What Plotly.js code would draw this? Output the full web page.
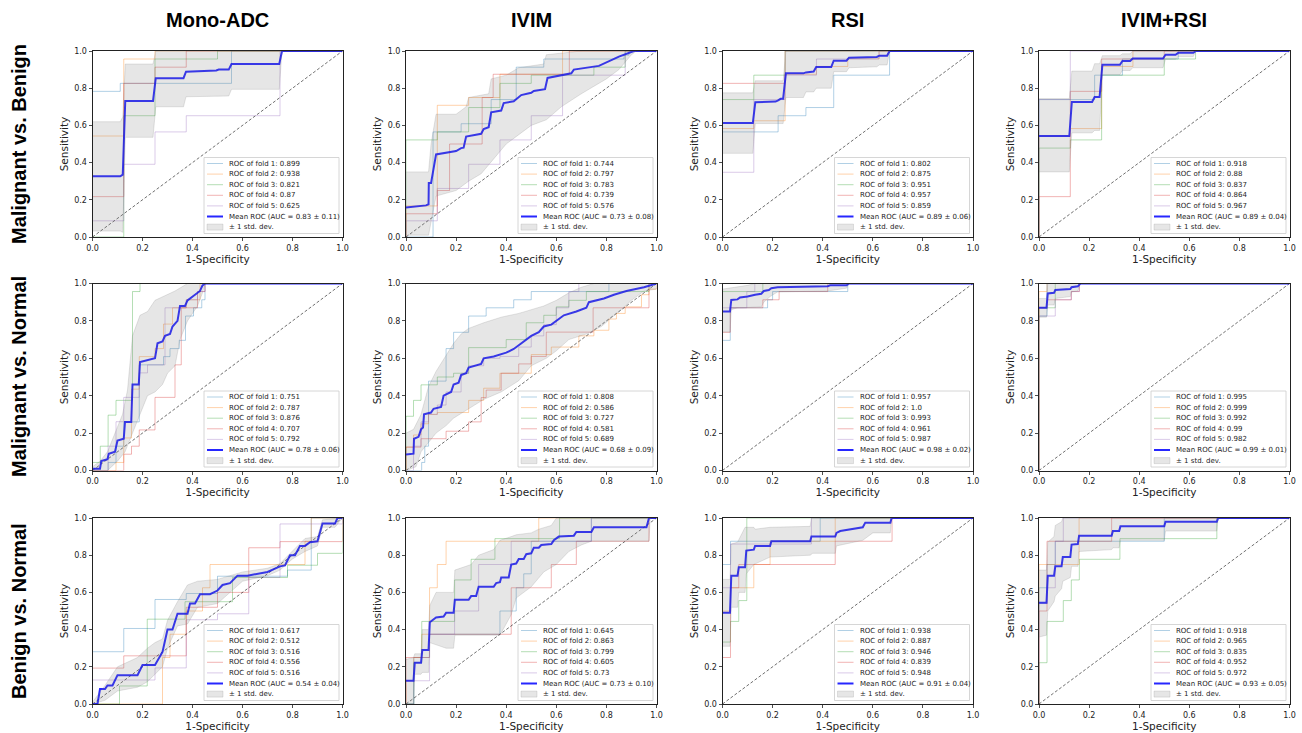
<!DOCTYPE html>
<html><head><meta charset="utf-8">
<script src="https://cdn.plot.ly/plotly-3.0.1.min.js"></script>
<style>html,body{margin:0;padding:0;background:#fff}#chart{width:1302px;height:733px}</style>
</head><body><div id="chart"></div>
<script>
// ---------- labels ----------
const rowNames = ['Malignant vs. Benign', 'Malignant vs. Normal', 'Benign vs. Normal'];
const colNames = ['Mono-ADC', 'IVIM', 'RSI', 'IVIM+RSI'];
const foldColors = ['rgba(31,119,180,0.35)', 'rgba(255,127,14,0.35)', 'rgba(44,160,44,0.35)', 'rgba(214,39,40,0.35)', 'rgba(148,103,189,0.35)'];
const xTitle = '1-Specificity';
const yTitle = 'Sensitivity';
const tickValues = [0, 0.2, 0.4, 0.6, 0.8, 1.0];
const diagonal = [[0, 0], [1, 1]];

// ---------- Malignant vs. Benign : Mono-ADC ----------
const mbAdcFold1 = [[0,0],[0,0.783],[0.111,0.826],[0.556,1],[1,1]];
const mbAdcFold2 = [[0,0],[0,0.543],[0.125,0.957],[0.25,1],[1,1]];
const mbAdcFold3 = [[0,0],[0.125,0.652],[0.25,0.957],[0.5,1],[1,1]];
const mbAdcFold4 = [[0,0],[0,0.217],[0.125,0.826],[0.25,0.913],[0.375,1],[1,1]];
const mbAdcFold5 = [[0,0],[0,0.087],[0.125,0.391],[0.25,0.565],[0.375,0.652],[0.75,1],[1,1]];
const mbAdcMean = [[0,0.326],[0.111,0.326],[0.121,0.335],[0.131,0.731],[0.242,0.731],[0.253,0.854],[0.364,0.854],[0.374,0.889],[0.495,0.895],[0.505,0.9],[0.545,0.9],[0.556,0.93],[0.747,0.93],[0.758,1],[1,1]];
const mbAdcUpper = [[0,0.62],[0.111,0.62],[0.121,0.645],[0.131,0.93],[0.242,0.93],[0.253,1],[1,1]];
const mbAdcLower = [[0,0.032],[0.111,0.032],[0.121,0.025],[0.131,0.536],[0.242,0.536],[0.253,0.70],[0.364,0.70],[0.374,0.754],[0.545,0.758],[0.556,0.794],[0.747,0.794],[0.758,1],[1,1]];
const mbAdcAuc = [0.899, 0.938, 0.821, 0.87, 0.625];
const mbAdcMeanAuc = [0.83, 0.11];

// ---------- Malignant vs. Benign : IVIM ----------
const mbIvimFold1 = [[0,0],[0.108,0.565],[0.22,0.609],[0.34,0.739],[0.44,0.913],[0.55,0.957],[0.87,0.978],[0.89,1],[1,1]];
const mbIvimFold2 = [[0,0],[0,0.167],[0.125,0.708],[0.25,0.75],[0.375,0.875],[0.625,1],[1,1]];
const mbIvimFold3 = [[0,0],[0,0.522],[0.125,0.565],[0.25,0.696],[0.375,0.826],[0.5,0.87],[0.75,0.913],[0.875,1],[1,1]];
const mbIvimFold4 = [[0,0],[0,0.125],[0.125,0.25],[0.174,0.5],[0.304,0.75],[0.348,0.875],[0.652,1],[1,1]];
const mbIvimFold5 = [[0,0],[0,0.087],[0.125,0.261],[0.25,0.391],[0.375,0.522],[0.5,0.652],[0.625,0.87],[0.875,1],[1,1]];
const mbIvimMean = [[0,0.158],[0.08,0.17],[0.09,0.176],[0.091,0.29],[0.1,0.29],[0.12,0.444],[0.2,0.462],[0.21,0.47],[0.22,0.478],[0.23,0.48],[0.24,0.54],[0.3,0.555],[0.31,0.58],[0.33,0.59],[0.34,0.67],[0.38,0.68],[0.39,0.72],[0.43,0.73],[0.46,0.763],[0.5,0.775],[0.51,0.785],[0.555,0.795],[0.565,0.855],[0.66,0.88],[0.67,0.9],[0.77,0.92],[0.85,0.97],[0.91,1],[1,1]];
const mbIvimUpper = [[0,0.35],[0.09,0.35],[0.1,0.5],[0.12,0.66],[0.2,0.66],[0.24,0.7],[0.25,0.75],[0.33,0.77],[0.34,0.85],[0.4,0.87],[0.45,0.91],[0.55,0.93],[0.56,0.98],[0.62,0.99],[0.7,1],[1,1]];
const mbIvimLower = [[0,0.01],[0.09,0.01],[0.1,0.08],[0.12,0.22],[0.2,0.25],[0.25,0.3],[0.3,0.34],[0.35,0.42],[0.4,0.5],[0.45,0.55],[0.5,0.6],[0.56,0.63],[0.62,0.7],[0.7,0.77],[0.8,0.85],[0.85,0.9],[0.9,0.98],[0.92,1],[1,1]];
const mbIvimAuc = [0.744, 0.797, 0.783, 0.739, 0.576];
const mbIvimMeanAuc = [0.73, 0.08];

// ---------- Malignant vs. Benign : RSI ----------
const mbRsiFold1 = [[0,0],[0,0.565],[0.222,0.652],[0.333,0.696],[0.444,0.87],[0.667,1],[1,1]];
const mbRsiFold2 = [[0,0],[0,0.583],[0.125,0.625],[0.25,0.875],[0.375,0.917],[0.5,0.958],[0.625,1],[1,1]];
const mbRsiFold3 = [[0,0],[0,0.739],[0.125,0.87],[0.25,1],[1,1]];
const mbRsiFold4 = [[0,0],[0,0.826],[0.25,1],[1,1]];
const mbRsiFold5 = [[0,0],[0,0.348],[0.125,0.739],[0.25,0.87],[0.375,0.957],[0.625,1],[1,1]];
const mbRsiMean = [[0,0.6125],[0.121,0.6125],[0.131,0.725],[0.212,0.728],[0.222,0.735],[0.232,0.743],[0.242,0.743],[0.253,0.88],[0.323,0.88],[0.333,0.885],[0.364,0.89],[0.374,0.914],[0.434,0.914],[0.444,0.948],[0.495,0.948],[0.505,0.964],[0.616,0.968],[0.626,0.975],[0.657,0.975],[0.667,1],[1,1]];
const mbRsiUpper = [[0,0.775],[0.121,0.775],[0.131,0.84],[0.242,0.84],[0.253,1],[1,1]];
const mbRsiLower = [[0,0.45],[0.121,0.45],[0.131,0.61],[0.242,0.61],[0.253,0.75],[0.323,0.75],[0.333,0.78],[0.364,0.78],[0.374,0.8],[0.434,0.8],[0.444,0.889],[0.495,0.889],[0.505,0.91],[0.616,0.915],[0.626,0.925],[0.657,0.925],[0.667,1],[1,1]];
const mbRsiAuc = [0.802, 0.875, 0.951, 0.957, 0.859];
const mbRsiMeanAuc = [0.89, 0.06];

// ---------- Malignant vs. Benign : IVIM+RSI ----------
const mbComboFold1 = [[0,0],[0,0.739],[0.222,0.87],[0.333,0.957],[0.556,1],[1,1]];
const mbComboFold2 = [[0,0],[0,0.542],[0.125,0.583],[0.25,0.917],[0.375,1],[1,1]];
const mbComboFold3 = [[0,0],[0,0.478],[0.125,0.522],[0.25,0.87],[0.5,0.957],[0.625,1],[1,1]];
const mbComboFold4 = [[0,0],[0,0.217],[0.125,0.783],[0.25,0.957],[0.5,1],[1,1]];
const mbComboFold5 = [[0,0],[0,0.739],[0.125,1],[1,1]];
const mbComboMean = [[0,0.543],[0.121,0.543],[0.131,0.726],[0.212,0.726],[0.222,0.753],[0.242,0.753],[0.253,0.926],[0.323,0.926],[0.333,0.946],[0.364,0.946],[0.374,0.96],[0.495,0.96],[0.505,0.98],[0.545,0.98],[0.556,0.99],[0.616,0.99],[0.626,1],[1,1]];
const mbComboUpper = [[0,0.744],[0.121,0.744],[0.131,0.892],[0.212,0.892],[0.222,0.932],[0.242,0.932],[0.253,0.975],[0.323,0.975],[0.333,0.985],[0.364,0.985],[0.374,1],[1,1]];
const mbComboLower = [[0,0.35],[0.121,0.35],[0.131,0.56],[0.212,0.56],[0.222,0.573],[0.242,0.573],[0.253,0.873],[0.323,0.873],[0.333,0.895],[0.364,0.895],[0.374,0.91],[0.495,0.91],[0.505,0.955],[0.545,0.955],[0.556,0.97],[0.616,0.97],[0.626,1],[1,1]];
const mbComboAuc = [0.918, 0.88, 0.837, 0.864, 0.967];
const mbComboMeanAuc = [0.89, 0.04];

// ---------- Malignant vs. Normal : Mono-ADC ----------
const mnAdcFold1 = [[0,0],[0.0625,0.043],[0.094,0.13],[0.125,0.26],[0.187,0.565],[0.284,0.609],[0.31,0.652],[0.347,0.696],[0.372,0.826],[0.404,0.87],[0.437,0.913],[0.45,1],[1,1]];
const mnAdcFold2 = [[0,0],[0.094,0.043],[0.125,0.174],[0.156,0.435],[0.187,0.609],[0.25,0.652],[0.284,0.783],[0.32,0.87],[0.375,0.913],[0.43,1],[1,1]];
const mnAdcFold3 = [[0,0],[0,0.043],[0.031,0.13],[0.0625,0.296],[0.094,0.375],[0.16,0.957],[0.19,1],[1,1]];
const mnAdcFold4 = [[0,0],[0.125,0.087],[0.156,0.13],[0.187,0.217],[0.25,0.391],[0.33,0.565],[0.355,0.87],[0.42,0.957],[0.45,1],[1,1]];
const mnAdcFold5 = [[0,0],[0.0625,0.13],[0.094,0.261],[0.125,0.391],[0.187,0.522],[0.22,0.565],[0.29,0.87],[0.375,0.913],[0.42,0.957],[0.45,1],[1,1]];
const mnAdcMean = [[0,0.01],[0.03,0.01],[0.035,0.05],[0.06,0.06],[0.065,0.09],[0.09,0.1],[0.1,0.16],[0.125,0.17],[0.13,0.26],[0.155,0.26],[0.16,0.46],[0.185,0.46],[0.19,0.58],[0.22,0.59],[0.25,0.6],[0.26,0.68],[0.28,0.69],[0.29,0.72],[0.31,0.73],[0.32,0.77],[0.34,0.8],[0.35,0.88],[0.37,0.88],[0.38,0.91],[0.41,0.94],[0.43,0.96],[0.44,0.99],[0.45,1],[1,1]];
const mnAdcUpper = [[0,0.02],[0.03,0.05],[0.06,0.1],[0.09,0.2],[0.12,0.3],[0.14,0.43],[0.16,0.72],[0.19,0.83],[0.22,0.85],[0.25,0.91],[0.28,0.93],[0.33,0.96],[0.38,1],[1,1]];
const mnAdcLower = [[0,0],[0.06,0],[0.1,0.05],[0.13,0.1],[0.16,0.2],[0.19,0.3],[0.22,0.4],[0.25,0.42],[0.28,0.46],[0.3,0.52],[0.33,0.56],[0.35,0.7],[0.38,0.8],[0.42,0.88],[0.44,0.95],[0.45,1],[1,1]];
const mnAdcAuc = [0.751, 0.787, 0.876, 0.707, 0.792];
const mnAdcMeanAuc = [0.78, 0.06];

// ---------- Malignant vs. Normal : IVIM ----------
const mnIvimFold1 = [[0,0],[0.0625,0.043],[0.075,0.13],[0.09,0.478],[0.16,0.652],[0.19,0.739],[0.25,0.826],[0.32,0.87],[0.43,0.913],[0.5,0.957],[0.81,1],[1,1]];
const mnIvimFold2 = [[0,0],[0,0.125],[0.03,0.19],[0.06,0.25],[0.09,0.3],[0.125,0.31],[0.25,0.375],[0.31,0.44],[0.375,0.52],[0.5,0.62],[0.58,0.66],[0.69,0.72],[0.75,0.75],[0.81,0.81],[0.84,0.84],[0.875,0.875],[0.94,0.94],[0.97,0.97],[1,1]];
const mnIvimFold3 = [[0,0],[0,0.29],[0.03,0.375],[0.06,0.458],[0.125,0.5],[0.19,0.52],[0.25,0.657],[0.4,0.7],[0.48,0.79],[0.55,0.83],[0.6,0.875],[0.65,0.91],[0.72,0.957],[0.97,1],[1,1]];
const mnIvimFold4 = [[0,0],[0,0.125],[0.06,0.17],[0.16,0.21],[0.25,0.26],[0.3,0.39],[0.32,0.43],[0.38,0.52],[0.45,0.57],[0.5,0.61],[0.56,0.74],[0.747,0.87],[0.97,1],[1,1]];
const mnIvimFold5 = [[0,0],[0.03,0.13],[0.06,0.26],[0.09,0.3],[0.125,0.35],[0.16,0.42],[0.22,0.52],[0.25,0.56],[0.31,0.6],[0.375,0.61],[0.45,0.66],[0.5,0.72],[0.55,0.78],[0.6,0.87],[0.65,0.957],[0.69,1],[1,1]];
const mnIvimMean = [[0,0.085],[0.03,0.09],[0.032,0.17],[0.05,0.18],[0.06,0.22],[0.068,0.23],[0.072,0.3],[0.1,0.31],[0.11,0.33],[0.14,0.34],[0.15,0.4],[0.18,0.42],[0.19,0.46],[0.21,0.47],[0.22,0.51],[0.24,0.52],[0.25,0.55],[0.3,0.57],[0.31,0.6],[0.35,0.61],[0.4,0.63],[0.43,0.65],[0.45,0.67],[0.48,0.7],[0.5,0.72],[0.53,0.74],[0.55,0.77],[0.58,0.78],[0.6,0.8],[0.63,0.83],[0.68,0.85],[0.72,0.87],[0.73,0.9],[0.79,0.92],[0.83,0.94],[0.88,0.96],[0.95,0.98],[1,1]];
const mnIvimUpper = [[0,0.2],[0.03,0.22],[0.06,0.3],[0.09,0.45],[0.12,0.53],[0.16,0.62],[0.19,0.68],[0.22,0.73],[0.25,0.76],[0.31,0.79],[0.38,0.82],[0.45,0.84],[0.5,0.86],[0.55,0.88],[0.6,0.91],[0.65,0.95],[0.7,0.98],[0.75,1],[1,1]];
const mnIvimLower = [[0,0],[0.04,0.02],[0.06,0.1],[0.09,0.15],[0.12,0.2],[0.16,0.24],[0.19,0.28],[0.25,0.33],[0.31,0.38],[0.38,0.42],[0.45,0.48],[0.5,0.56],[0.56,0.6],[0.6,0.64],[0.65,0.7],[0.72,0.73],[0.78,0.77],[0.85,0.85],[0.9,0.91],[0.95,0.96],[1,0.97]];
const mnIvimAuc = [0.808, 0.586, 0.727, 0.581, 0.689];
const mnIvimMeanAuc = [0.68, 0.09];

// ---------- Malignant vs. Normal : RSI ----------
const mnRsiFold1 = [[0,0],[0,0.696],[0.031,0.87],[0.18,0.913],[0.2,0.957],[0.5,1],[1,1]];
const mnRsiFold2 = [[0,0],[0,1],[1,1]];
const mnRsiFold3 = [[0,0],[0,0.957],[0.161,1],[1,1]];
const mnRsiFold4 = [[0,0],[0,0.739],[0.031,0.87],[0.161,0.913],[0.226,0.957],[0.42,1],[1,1]];
const mnRsiFold5 = [[0,0],[0,0.87],[0.097,0.957],[0.129,1],[1,1]];
const mnRsiMean = [[0,0.85],[0.03,0.85],[0.035,0.912],[0.06,0.915],[0.07,0.925],[0.1,0.93],[0.13,0.94],[0.155,0.945],[0.165,0.96],[0.185,0.965],[0.195,0.975],[0.22,0.98],[0.42,0.985],[0.43,0.99],[0.495,0.99],[0.505,1],[1,1]];
const mnRsiUpper = [[0,0.97],[0.03,0.975],[0.1,0.99],[0.13,1],[1,1]];
const mnRsiLower = [[0,0.74],[0.03,0.74],[0.035,0.86],[0.06,0.87],[0.155,0.875],[0.165,0.9],[0.19,0.93],[0.22,0.955],[0.42,0.96],[0.495,0.975],[0.505,1],[1,1]];
const mnRsiAuc = [0.957, 1.0, 0.993, 0.961, 0.987];
const mnRsiMeanAuc = [0.98, 0.02];

// ---------- Malignant vs. Normal : IVIM+RSI ----------
const mnComboFold1 = [[0,0],[0,0.826],[0.032,1],[1,1]];
const mnComboFold2 = [[0,0],[0,0.957],[0.032,1],[1,1]];
const mnComboFold3 = [[0,0],[0,0.87],[0.065,1],[1,1]];
const mnComboFold4 = [[0,0],[0,0.87],[0.032,0.913],[0.129,0.957],[0.161,1],[1,1]];
const mnComboFold5 = [[0,0],[0,0.826],[0.065,0.913],[0.129,0.957],[0.161,1],[1,1]];
const mnComboMean = [[0,0.87],[0.03,0.87],[0.035,0.947],[0.06,0.95],[0.065,0.965],[0.125,0.97],[0.13,0.98],[0.155,0.985],[0.165,1],[1,1]];
const mnComboUpper = [[0,0.92],[0.03,0.92],[0.035,1],[1,1]];
const mnComboLower = [[0,0.82],[0.03,0.82],[0.035,0.885],[0.06,0.885],[0.065,0.92],[0.125,0.93],[0.13,0.955],[0.155,0.96],[0.165,1],[1,1]];
const mnComboAuc = [0.995, 0.999, 0.992, 0.99, 0.982];
const mnComboMeanAuc = [0.99, 0.01];

// ---------- Benign vs. Normal : Mono-ADC ----------
const bnAdcFold1 = [[0,0],[0,0.281],[0.125,0.406],[0.25,0.562],[0.375,0.594],[0.5,0.687],[0.78,0.72],[0.875,1],[1,1]];
const bnAdcFold2 = [[0,0],[0.28,0.25],[0.31,0.375],[0.375,0.5],[0.44,0.625],[0.47,0.75],[0.85,0.875],[0.875,1],[1,1]];
const bnAdcFold3 = [[0,0],[0.108,0.097],[0.219,0.456],[0.37,0.55],[0.56,0.68],[0.78,0.746],[0.9,0.81],[1,1]];
const bnAdcFold4 = [[0,0],[0,0.193],[0.125,0.259],[0.375,0.52],[0.5,0.6],[0.625,0.84],[0.75,0.873],[1,1]];
const bnAdcFold5 = [[0,0],[0,0.129],[0.25,0.194],[0.375,0.453],[0.5,0.485],[0.625,0.68],[0.75,0.968],[1,1]];
const bnAdcMean = [[0,0],[0.02,0],[0.03,0.08],[0.05,0.08],[0.06,0.1],[0.08,0.1],[0.1,0.155],[0.18,0.155],[0.2,0.21],[0.25,0.21],[0.28,0.28],[0.3,0.4],[0.32,0.4],[0.34,0.485],[0.38,0.485],[0.39,0.54],[0.41,0.54],[0.43,0.59],[0.47,0.59],[0.5,0.61],[0.52,0.64],[0.55,0.65],[0.58,0.69],[0.62,0.69],[0.7,0.71],[0.75,0.74],[0.77,0.745],[0.79,0.8],[0.81,0.8],[0.83,0.85],[0.85,0.85],[0.87,0.87],[0.9,0.875],[0.92,0.97],[0.97,0.97],[0.98,1],[1,1]];
const bnAdcUpper = [[0,0.01],[0.05,0.1],[0.1,0.2],[0.18,0.25],[0.22,0.3],[0.25,0.33],[0.28,0.35],[0.3,0.45],[0.34,0.55],[0.38,0.64],[0.42,0.66],[0.5,0.67],[0.6,0.71],[0.7,0.73],[0.75,0.755],[0.8,0.82],[0.85,0.89],[0.9,0.9],[0.92,0.99],[1,1]];
const bnAdcLower = [[0,0],[0.05,0.02],[0.1,0.07],[0.18,0.09],[0.22,0.12],[0.28,0.2],[0.3,0.3],[0.34,0.42],[0.38,0.43],[0.42,0.52],[0.5,0.54],[0.55,0.6],[0.6,0.66],[0.7,0.69],[0.75,0.72],[0.8,0.78],[0.85,0.82],[0.9,0.85],[0.92,0.95],[0.97,0.95],[1,1]];
const bnAdcAuc = [0.617, 0.512, 0.516, 0.556, 0.516];
const bnAdcMeanAuc = [0.54, 0.04];

// ---------- Benign vs. Normal : IVIM ----------
const bnIvimFold1 = [[0,0],[0.031,0.25],[0.094,0.375],[0.375,0.5],[0.44,0.625],[0.47,0.7],[0.5,0.875],[0.74,1],[1,1]];
const bnIvimFold2 = [[0,0],[0,0.125],[0.031,0.25],[0.063,0.375],[0.094,0.625],[0.125,0.75],[0.16,0.875],[0.53,1],[1,1]];
const bnIvimFold3 = [[0,0],[0.031,0.222],[0.063,0.444],[0.194,0.667],[0.26,0.778],[0.355,0.889],[0.613,1],[1,1]];
const bnIvimFold4 = [[0,0],[0,0.25],[0.094,0.375],[0.42,0.625],[0.58,0.75],[0.68,0.875],[0.97,1],[1,1]];
const bnIvimFold5 = [[0,0],[0.031,0.125],[0.094,0.375],[0.194,0.5],[0.29,0.75],[0.42,0.875],[0.74,1],[1,1]];
const bnIvimMean = [[0,0.125],[0.03,0.125],[0.035,0.222],[0.06,0.222],[0.065,0.29],[0.09,0.29],[0.095,0.44],[0.12,0.465],[0.15,0.47],[0.16,0.49],[0.19,0.49],[0.195,0.56],[0.25,0.56],[0.26,0.58],[0.28,0.58],[0.29,0.63],[0.35,0.63],[0.36,0.65],[0.375,0.655],[0.38,0.68],[0.41,0.68],[0.42,0.75],[0.44,0.755],[0.45,0.78],[0.47,0.78],[0.48,0.805],[0.5,0.81],[0.51,0.84],[0.53,0.84],[0.54,0.855],[0.58,0.86],[0.59,0.88],[0.61,0.9],[0.67,0.905],[0.68,0.925],[0.74,0.925],[0.75,0.95],[0.96,0.95],[0.97,1],[1,1]];
const bnIvimUpper = [[0,0.24],[0.03,0.25],[0.035,0.27],[0.06,0.27],[0.065,0.4],[0.09,0.4],[0.095,0.53],[0.12,0.6],[0.19,0.6],[0.195,0.72],[0.26,0.75],[0.29,0.8],[0.35,0.83],[0.375,0.88],[0.42,0.9],[0.44,0.91],[0.5,0.92],[0.53,0.94],[0.58,0.96],[0.6,1],[1,1]];
const bnIvimLower = [[0,0],[0.03,0],[0.035,0.16],[0.06,0.16],[0.065,0.17],[0.09,0.17],[0.095,0.33],[0.16,0.3],[0.19,0.3],[0.195,0.37],[0.375,0.37],[0.42,0.48],[0.44,0.57],[0.5,0.63],[0.55,0.71],[0.6,0.75],[0.65,0.82],[0.7,0.855],[0.74,0.875],[0.97,0.875],[0.975,1],[1,1]];
const bnIvimAuc = [0.645, 0.863, 0.799, 0.605, 0.73];
const bnIvimMeanAuc = [0.73, 0.10];

// ---------- Benign vs. Normal : RSI ----------
const bnRsiFold1 = [[0,0],[0,0.75],[0.032,0.875],[0.39,1],[1,1]];
const bnRsiFold2 = [[0,0],[0,0.5],[0.032,0.625],[0.125,0.75],[0.19,0.875],[0.45,1],[1,1]];
const bnRsiFold3 = [[0,0],[0,0.333],[0.032,0.444],[0.065,0.556],[0.097,1],[1,1]];
const bnRsiFold4 = [[0,0],[0,0.25],[0.032,0.625],[0.065,0.75],[0.45,0.875],[0.677,1],[1,1]];
const bnRsiFold5 = [[0,0],[0,0.625],[0.032,0.86],[0.355,1],[1,1]];
const bnRsiMean = [[0,0.49],[0.03,0.49],[0.035,0.69],[0.06,0.69],[0.065,0.735],[0.09,0.735],[0.095,0.825],[0.125,0.83],[0.13,0.85],[0.19,0.85],[0.195,0.875],[0.35,0.875],[0.355,0.9],[0.45,0.9],[0.455,0.92],[0.47,0.93],[0.56,0.95],[0.57,0.975],[0.67,0.975],[0.675,1],[1,1]];
const bnRsiUpper = [[0,0.67],[0.03,0.67],[0.035,0.86],[0.06,0.87],[0.09,0.95],[0.125,0.95],[0.13,0.94],[0.19,0.95],[0.35,0.955],[0.355,1],[1,1]];
const bnRsiLower = [[0,0.31],[0.03,0.31],[0.035,0.52],[0.06,0.52],[0.065,0.6],[0.09,0.6],[0.095,0.7],[0.125,0.75],[0.19,0.79],[0.35,0.8],[0.36,0.81],[0.45,0.81],[0.455,0.85],[0.56,0.88],[0.6,0.92],[0.67,0.92],[0.675,1],[1,1]];
const bnRsiAuc = [0.938, 0.887, 0.946, 0.839, 0.948];
const bnRsiMeanAuc = [0.91, 0.04];

// ---------- Benign vs. Normal : IVIM+RSI ----------
const bnComboFold1 = [[0,0],[0,0.625],[0.032,0.75],[0.065,0.875],[0.5,1],[1,1]];
const bnComboFold2 = [[0,0],[0,0.75],[0.16,1],[1,1]];
const bnComboFold3 = [[0,0],[0,0.222],[0.032,0.444],[0.097,0.556],[0.129,0.667],[0.161,0.778],[0.323,0.889],[0.71,1],[1,1]];
const bnComboFold4 = [[0,0],[0,0.5],[0.032,0.875],[0.29,1],[1,1]];
const bnComboFold5 = [[0,0],[0,0.54],[0.032,0.625],[0.065,0.875],[0.097,1],[1,1]];
const bnComboMean = [[0,0.545],[0.03,0.545],[0.035,0.69],[0.06,0.69],[0.065,0.74],[0.09,0.74],[0.095,0.79],[0.125,0.79],[0.13,0.857],[0.155,0.86],[0.16,0.905],[0.29,0.905],[0.295,0.93],[0.32,0.93],[0.325,0.955],[0.5,0.955],[0.505,0.98],[0.71,0.98],[0.715,1],[1,1]];
const bnComboUpper = [[0,0.72],[0.03,0.72],[0.035,0.87],[0.06,0.9],[0.065,0.96],[0.09,0.98],[0.095,1],[1,1]];
const bnComboLower = [[0,0.36],[0.03,0.37],[0.035,0.5],[0.06,0.55],[0.065,0.58],[0.09,0.62],[0.095,0.66],[0.125,0.68],[0.13,0.74],[0.155,0.74],[0.16,0.82],[0.29,0.83],[0.295,0.84],[0.32,0.84],[0.325,0.88],[0.5,0.88],[0.505,0.93],[0.71,0.93],[0.715,1],[1,1]];
const bnComboAuc = [0.918, 0.965, 0.835, 0.952, 0.972];
const bnComboMeanAuc = [0.93, 0.05];

// ---------- panel table (row-major) ----------
const panels = [
  {folds:[mbAdcFold1,mbAdcFold2,mbAdcFold3,mbAdcFold4,mbAdcFold5], mean:mbAdcMean, upper:mbAdcUpper, lower:mbAdcLower, auc:mbAdcAuc, meanAuc:mbAdcMeanAuc},
  {folds:[mbIvimFold1,mbIvimFold2,mbIvimFold3,mbIvimFold4,mbIvimFold5], mean:mbIvimMean, upper:mbIvimUpper, lower:mbIvimLower, auc:mbIvimAuc, meanAuc:mbIvimMeanAuc},
  {folds:[mbRsiFold1,mbRsiFold2,mbRsiFold3,mbRsiFold4,mbRsiFold5], mean:mbRsiMean, upper:mbRsiUpper, lower:mbRsiLower, auc:mbRsiAuc, meanAuc:mbRsiMeanAuc},
  {folds:[mbComboFold1,mbComboFold2,mbComboFold3,mbComboFold4,mbComboFold5], mean:mbComboMean, upper:mbComboUpper, lower:mbComboLower, auc:mbComboAuc, meanAuc:mbComboMeanAuc},
  {folds:[mnAdcFold1,mnAdcFold2,mnAdcFold3,mnAdcFold4,mnAdcFold5], mean:mnAdcMean, upper:mnAdcUpper, lower:mnAdcLower, auc:mnAdcAuc, meanAuc:mnAdcMeanAuc},
  {folds:[mnIvimFold1,mnIvimFold2,mnIvimFold3,mnIvimFold4,mnIvimFold5], mean:mnIvimMean, upper:mnIvimUpper, lower:mnIvimLower, auc:mnIvimAuc, meanAuc:mnIvimMeanAuc},
  {folds:[mnRsiFold1,mnRsiFold2,mnRsiFold3,mnRsiFold4,mnRsiFold5], mean:mnRsiMean, upper:mnRsiUpper, lower:mnRsiLower, auc:mnRsiAuc, meanAuc:mnRsiMeanAuc},
  {folds:[mnComboFold1,mnComboFold2,mnComboFold3,mnComboFold4,mnComboFold5], mean:mnComboMean, upper:mnComboUpper, lower:mnComboLower, auc:mnComboAuc, meanAuc:mnComboMeanAuc},
  {folds:[bnAdcFold1,bnAdcFold2,bnAdcFold3,bnAdcFold4,bnAdcFold5], mean:bnAdcMean, upper:bnAdcUpper, lower:bnAdcLower, auc:bnAdcAuc, meanAuc:bnAdcMeanAuc},
  {folds:[bnIvimFold1,bnIvimFold2,bnIvimFold3,bnIvimFold4,bnIvimFold5], mean:bnIvimMean, upper:bnIvimUpper, lower:bnIvimLower, auc:bnIvimAuc, meanAuc:bnIvimMeanAuc},
  {folds:[bnRsiFold1,bnRsiFold2,bnRsiFold3,bnRsiFold4,bnRsiFold5], mean:bnRsiMean, upper:bnRsiUpper, lower:bnRsiLower, auc:bnRsiAuc, meanAuc:bnRsiMeanAuc},
  {folds:[bnComboFold1,bnComboFold2,bnComboFold3,bnComboFold4,bnComboFold5], mean:bnComboMean, upper:bnComboUpper, lower:bnComboLower, auc:bnComboAuc, meanAuc:bnComboMeanAuc}
];

// ---------- geometry (pixels) ----------
const W = 1302, H = 733;
const colL = [92.5, 406, 722.5, 1039];
const colR = [342.5, 656.5, 973, 1289.5];
const rowT = [51, 283.5, 518];
const rowB = [237, 470.5, 704];
const px = v => v / W;
const py = v => 1 - v / H;

const tickFont = {family: 'DejaVu Sans, sans-serif', size: 8, color: '#222'};
const titleFont = {family: 'DejaVu Sans, sans-serif', size: 10.5, color: '#222'};
const legFont = {family: 'DejaVu Sans, sans-serif', size: 7, color: '#222'};
const headFont = {family: 'Liberation Sans, Arial, sans-serif', size: 20, color: '#000', weight: 'bold'};

const fmt = v => Number.isInteger(v) ? v.toFixed(1) : String(v);
const xs = a => a.map(p => p[0]);
const ys = a => a.map(p => p[1]);

const data = [];
const layout = {
  width: W, height: H, margin: {l: 0, r: 0, t: 0, b: 0},
  paper_bgcolor: '#fff', plot_bgcolor: '#fff', showlegend: false,
  annotations: [], shapes: []
};

panels.forEach((pn, i) => {
  const r = Math.floor(i / 4), c = i % 4;
  const sfx = i === 0 ? '' : String(i + 1);
  const xa = 'x' + sfx, ya = 'y' + sfx;
  // folds
  pn.folds.forEach((f, k) => {
    data.push({x: xs(f), y: ys(f), xaxis: xa, yaxis: ya, type: 'scatter', mode: 'lines',
      line: {color: foldColors[k], width: 1, shape: 'hv'}, hoverinfo: 'skip'});
  });
  // chance diagonal
  data.push({x: xs(diagonal), y: ys(diagonal), xaxis: xa, yaxis: ya, type: 'scatter', mode: 'lines',
    line: {color: 'rgba(30,30,30,0.8)', width: 0.8, dash: '3px,2px'}, hoverinfo: 'skip'});
  // mean
  data.push({x: xs(pn.mean), y: ys(pn.mean), xaxis: xa, yaxis: ya, type: 'scatter', mode: 'lines',
    line: {color: 'rgba(0,0,255,0.85)', width: 2}, hoverinfo: 'skip'});
  // std band
  const band = pn.upper.concat(pn.lower.slice().reverse());
  data.push({x: xs(band), y: ys(band), xaxis: xa, yaxis: ya, type: 'scatter', mode: 'lines',
    fill: 'toself', fillcolor: 'rgba(128,128,128,0.2)',
    line: {color: 'rgba(128,128,128,0.3)', width: 0.7}, hoverinfo: 'skip'});

  const ax = {
    range: [0, 1], tickvals: tickValues, tickformat: '.1f', ticks: 'outside', ticklen: 3,
    tickwidth: 0.8, tickcolor: '#222', showline: true, linecolor: '#222', linewidth: 1,
    mirror: true, showgrid: false, zeroline: false, tickfont: tickFont, fixedrange: true
  };
  layout['xaxis' + sfx] = Object.assign({}, ax, {
    domain: [px(colL[c]), px(colR[c])], anchor: ya,
    title: {text: xTitle, font: titleFont, standoff: 3}
  });
  layout['yaxis' + sfx] = Object.assign({}, ax, {
    domain: [py(rowB[r]), py(rowT[r])], anchor: xa,
    title: {text: yTitle, font: titleFont, standoff: 3}
  });

  // legend box (drawn manually, matplotlib style)
  const bx1 = colR[c] - 3.5, bx0 = bx1 - 135;
  const by1 = rowB[r] - 3.5, by0 = by1 - 76;
  layout.shapes.push({type: 'rect', xref: 'paper', yref: 'paper', x0: px(bx0), x1: px(bx1), y0: py(by1), y1: py(by0),
    fillcolor: 'rgba(255,255,255,0.85)', line: {color: '#cccccc', width: 0.8}});
  const labels = pn.auc.map((a, k) => 'ROC of fold ' + (k + 1) + ': ' + fmt(a));
  labels.push('Mean ROC (AUC = ' + pn.meanAuc[0].toFixed(2) + ' \u00b1 ' + pn.meanAuc[1].toFixed(2) + ')');
  labels.push('\u00b1 1 std. dev.');
  labels.forEach((t, k) => {
    const cy = by0 + 6 + k * 10.6;
    if (k < 5) {
      layout.shapes.push({type: 'line', xref: 'paper', yref: 'paper', x0: px(bx0 + 3), x1: px(bx0 + 19), y0: py(cy), y1: py(cy),
        line: {color: foldColors[k], width: 1}});
    } else if (k === 5) {
      layout.shapes.push({type: 'line', xref: 'paper', yref: 'paper', x0: px(bx0 + 3), x1: px(bx0 + 19), y0: py(cy), y1: py(cy),
        line: {color: 'rgba(0,0,255,0.85)', width: 2}});
    } else {
      layout.shapes.push({type: 'rect', xref: 'paper', yref: 'paper', x0: px(bx0 + 3), x1: px(bx0 + 19), y0: py(cy + 3), y1: py(cy - 3),
        fillcolor: 'rgba(128,128,128,0.2)', line: {color: 'rgba(128,128,128,0.3)', width: 0.7}});
    }
    layout.annotations.push({text: t, xref: 'paper', yref: 'paper', x: px(bx0 + 23), y: py(cy),
      xanchor: 'left', yanchor: 'middle', showarrow: false, font: legFont});
  });
});

// column headers
colNames.forEach((t, c) => {
  layout.annotations.push({text: t, xref: 'paper', yref: 'paper', x: px((colL[c] + colR[c]) / 2), y: py(20),
    xanchor: 'center', yanchor: 'middle', showarrow: false, font: headFont});
});
// row headers
rowNames.forEach((t, r) => {
  layout.annotations.push({text: t, xref: 'paper', yref: 'paper', x: px(19), y: py((rowT[r] + rowB[r]) / 2),
    xanchor: 'center', yanchor: 'middle', textangle: -90, showarrow: false, font: headFont});
});

Plotly.newPlot('chart', data, layout, {displayModeBar: false, staticPlot: true});
</script>
</body></html>
